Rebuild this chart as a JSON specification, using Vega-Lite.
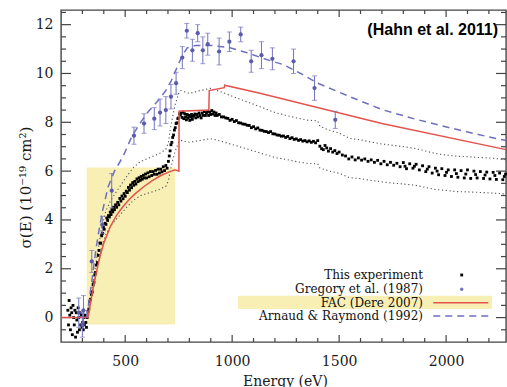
{
  "$schema": "https://vega.github.io/schema/vega-lite/v6.json",
  "width": 445,
  "height": 332,
  "autosize": {"type": "none"},
  "padding": {"left": 61, "top": 10, "right": 1, "bottom": 45},
  "background": "#ffffff",
  "config": {
    "view": {"stroke": "#444444", "strokeWidth": 1.4},
    "axis": {"grid": false, "domain": false, "ticks": false, "labelFont": "DejaVu Serif", "labelFontSize": 14, "labelColor": "#1a1a1a", "titleFont": "DejaVu Serif", "titleFontSize": 14, "titleFontWeight": "normal", "titleColor": "#1a1a1a", "labelFlush": false, "labelOverlap": false}
  },
  "datasets": {
    "box": [{"x1": 320, "x2": 733, "y1": -0.28, "y2": 6.15}],
    "xmaj": [{"v": 500}, {"v": 1000}, {"v": 1500}, {"v": 2000}],
    "xmin": [{"v": 300}, {"v": 400}, {"v": 600}, {"v": 700}, {"v": 800}, {"v": 900}, {"v": 1100}, {"v": 1200}, {"v": 1300}, {"v": 1400}, {"v": 1600}, {"v": 1700}, {"v": 1800}, {"v": 1900}, {"v": 2100}, {"v": 2200}],
    "ymaj": [{"v": 0}, {"v": 2}, {"v": 4}, {"v": 6}, {"v": 8}, {"v": 10}, {"v": 12}],
    "ymin": [{"v": -0.5}, {"v": 0.5}, {"v": 1}, {"v": 1.5}, {"v": 2.5}, {"v": 3}, {"v": 3.5}, {"v": 4.5}, {"v": 5}, {"v": 5.5}, {"v": 6.5}, {"v": 7}, {"v": 7.5}, {"v": 8.5}, {"v": 9}, {"v": 9.5}, {"v": 10.5}, {"v": 11}, {"v": 11.5}, {"v": 12.5}],
    "fac": [
      {"E": 200, "s": 0}, {"E": 326, "s": 0}, {"E": 340, "s": 0.7}, {"E": 355, "s": 1.45}, {"E": 370, "s": 2.05}, {"E": 382, "s": 2.5}, {"E": 400, "s": 3.05}, {"E": 429, "s": 3.7}, {"E": 460, "s": 4.2}, {"E": 490, "s": 4.55}, {"E": 520, "s": 4.85}, {"E": 550, "s": 5.1}, {"E": 585, "s": 5.35}, {"E": 625, "s": 5.6}, {"E": 663, "s": 5.8}, {"E": 700, "s": 5.95}, {"E": 733, "s": 6.05}, {"E": 751, "s": 6.0}, {"E": 752, "s": 8.45}, {"E": 891, "s": 8.5}, {"E": 893, "s": 9.3}, {"E": 963, "s": 9.42}, {"E": 965, "s": 9.52}, {"E": 1130, "s": 9.19}, {"E": 1700, "s": 7.95}, {"E": 2280, "s": 6.88}
    ],
    "ar": [
      {"E": 320, "s": 0}, {"E": 335, "s": 0.9}, {"E": 350, "s": 1.9}, {"E": 365, "s": 2.9}, {"E": 380, "s": 3.7}, {"E": 395, "s": 4.4}, {"E": 420, "s": 5.35}, {"E": 450, "s": 6.0}, {"E": 490, "s": 6.6}, {"E": 530, "s": 7.4}, {"E": 565, "s": 7.9}, {"E": 600, "s": 8.35}, {"E": 650, "s": 8.85}, {"E": 690, "s": 9.3}, {"E": 715, "s": 9.7}, {"E": 740, "s": 10.2}, {"E": 765, "s": 10.7}, {"E": 790, "s": 11.05}, {"E": 830, "s": 11.15}, {"E": 900, "s": 11.15}, {"E": 990, "s": 11.05}, {"E": 1070, "s": 10.85}, {"E": 1150, "s": 10.6}, {"E": 1240, "s": 10.36}, {"E": 1320, "s": 10.0}, {"E": 1400, "s": 9.6}, {"E": 1550, "s": 9.05}, {"E": 1700, "s": 8.52}, {"E": 1860, "s": 8.12}, {"E": 2020, "s": 7.77}, {"E": 2150, "s": 7.5}, {"E": 2280, "s": 7.25}
    ],
    "greg": [
      {"E": 283, "s": 0.2, "err": 0.6}, {"E": 300, "s": -0.3, "err": 0.5}, {"E": 305, "s": 0.3, "err": 0.6}, {"E": 344, "s": 2.3, "err": 0.45}, {"E": 393, "s": 3.8, "err": 0.35}, {"E": 437, "s": 5.2, "err": 0.7}, {"E": 541, "s": 7.45, "err": 0.35}, {"E": 588, "s": 7.95, "err": 0.4}, {"E": 636, "s": 8.15, "err": 0.45}, {"E": 663, "s": 8.4, "err": 0.55}, {"E": 690, "s": 8.5, "err": 0.55}, {"E": 714, "s": 9.05, "err": 0.5}, {"E": 738, "s": 9.6, "err": 0.45}, {"E": 767, "s": 10.65, "err": 0.45}, {"E": 788, "s": 11.75, "err": 0.3}, {"E": 814, "s": 10.95, "err": 0.45}, {"E": 839, "s": 11.65, "err": 0.35}, {"E": 863, "s": 10.95, "err": 0.55}, {"E": 886, "s": 11.2, "err": 0.45}, {"E": 939, "s": 10.9, "err": 0.55}, {"E": 987, "s": 11.3, "err": 0.4}, {"E": 1040, "s": 11.6, "err": 0.3}, {"E": 1089, "s": 10.5, "err": 0.45}, {"E": 1137, "s": 10.75, "err": 0.55}, {"E": 1188, "s": 10.6, "err": 0.45}, {"E": 1287, "s": 10.5, "err": 0.5}, {"E": 1385, "s": 9.4, "err": 0.5}, {"E": 1482, "s": 8.1, "err": 0.35}
    ],
    "band": [
      {"E": 330, "hi": 0.45, "lo": 0.35}, {"E": 350, "hi": 1.46, "lo": 1.14}, {"E": 370, "hi": 2.58, "lo": 2.01}, {"E": 390, "hi": 3.7, "lo": 2.89}, {"E": 410, "hi": 4.37, "lo": 3.41}, {"E": 430, "hi": 4.76, "lo": 3.72}, {"E": 450, "hi": 5.04, "lo": 3.94}, {"E": 480, "hi": 5.43, "lo": 4.24}, {"E": 510, "hi": 5.82, "lo": 4.55}, {"E": 540, "hi": 6.16, "lo": 4.81}, {"E": 570, "hi": 6.38, "lo": 4.99}, {"E": 600, "hi": 6.5, "lo": 5.08}, {"E": 630, "hi": 6.61, "lo": 5.16}, {"E": 660, "hi": 6.72, "lo": 5.25}, {"E": 690, "hi": 6.89, "lo": 5.38}, {"E": 702, "hi": 7.17, "lo": 5.6}, {"E": 710, "hi": 7.67, "lo": 5.99}, {"E": 718, "hi": 8.06, "lo": 6.3}, {"E": 726, "hi": 8.4, "lo": 6.56}, {"E": 734, "hi": 8.74, "lo": 6.83}, {"E": 742, "hi": 8.96, "lo": 7.0}, {"E": 750, "hi": 9.18, "lo": 7.18}, {"E": 760, "hi": 9.3, "lo": 7.26}, {"E": 800, "hi": 9.18, "lo": 7.18}, {"E": 850, "hi": 9.3, "lo": 7.26}, {"E": 900, "hi": 9.39, "lo": 7.33}, {"E": 950, "hi": 9.24, "lo": 7.22}, {"E": 1000, "hi": 9.07, "lo": 7.09}, {"E": 1050, "hi": 8.9, "lo": 6.96}, {"E": 1100, "hi": 8.74, "lo": 6.83}, {"E": 1150, "hi": 8.57, "lo": 6.69}, {"E": 1200, "hi": 8.4, "lo": 6.56}, {"E": 1250, "hi": 8.29, "lo": 6.48}, {"E": 1300, "hi": 8.18, "lo": 6.39}, {"E": 1350, "hi": 8.09, "lo": 6.32}, {"E": 1400, "hi": 8.06, "lo": 6.3}, {"E": 1410, "hi": 7.84, "lo": 6.13}, {"E": 1450, "hi": 7.69, "lo": 6.01}, {"E": 1500, "hi": 7.56, "lo": 5.91}, {"E": 1550, "hi": 7.34, "lo": 5.73}, {"E": 1600, "hi": 7.28, "lo": 5.69}, {"E": 1650, "hi": 7.19, "lo": 5.62}, {"E": 1700, "hi": 7.11, "lo": 5.56}, {"E": 1750, "hi": 7.06, "lo": 5.51}, {"E": 1800, "hi": 7.0, "lo": 5.47}, {"E": 1850, "hi": 6.94, "lo": 5.43}, {"E": 1900, "hi": 6.83, "lo": 5.34}, {"E": 1950, "hi": 6.72, "lo": 5.25}, {"E": 2000, "hi": 6.66, "lo": 5.21}, {"E": 2050, "hi": 6.61, "lo": 5.16}, {"E": 2100, "hi": 6.59, "lo": 5.15}, {"E": 2150, "hi": 6.56, "lo": 5.13}, {"E": 2200, "hi": 6.54, "lo": 5.11}, {"E": 2250, "hi": 6.5, "lo": 5.08}, {"E": 2280, "hi": 6.47, "lo": 5.06}
    ],
    "exp": [
      {"E": 232, "s": 0.3}, {"E": 235, "s": -0.3}, {"E": 238, "s": 0.7}, {"E": 241, "s": 0.1}, {"E": 244, "s": -0.5}, {"E": 247, "s": 0.4}, {"E": 250, "s": 0.2}, {"E": 253, "s": -0.7}, {"E": 256, "s": 0.5}, {"E": 259, "s": 0.0}, {"E": 262, "s": -0.3}, {"E": 265, "s": 0.3}, {"E": 268, "s": -0.8}, {"E": 271, "s": 0.2}, {"E": 274, "s": -0.1}, {"E": 277, "s": -0.6}, {"E": 280, "s": 0.4}, {"E": 283, "s": 0.0}, {"E": 286, "s": -0.5}, {"E": 289, "s": 0.2}, {"E": 292, "s": -0.3}, {"E": 295, "s": 0.1}, {"E": 298, "s": -0.4}, {"E": 301, "s": -0.2}, {"E": 304, "s": -0.5}, {"E": 307, "s": 0.0}, {"E": 310, "s": -0.3}, {"E": 313, "s": 0.1}, {"E": 316, "s": -0.2}, {"E": 319, "s": -0.4}, {"E": 322, "s": 0.0},
      {"E": 326, "s": 0.25}, {"E": 330, "s": 0.35}, {"E": 334, "s": 0.65}, {"E": 338, "s": 0.75}, {"E": 342, "s": 0.95}, {"E": 346, "s": 1.05}, {"E": 350, "s": 1.35}, {"E": 354, "s": 1.45}, {"E": 358, "s": 1.75}, {"E": 362, "s": 1.85}, {"E": 366, "s": 2.15}, {"E": 370, "s": 2.25}, {"E": 374, "s": 2.55}, {"E": 378, "s": 2.75}, {"E": 382, "s": 3.05}, {"E": 386, "s": 3.05}, {"E": 390, "s": 3.35}, {"E": 394, "s": 3.45}, {"E": 398, "s": 3.7}, {"E": 402, "s": 3.62}, {"E": 406, "s": 3.86}, {"E": 410, "s": 3.82}, {"E": 414, "s": 4.08}, {"E": 418, "s": 3.98}, {"E": 422, "s": 4.18}, {"E": 426, "s": 4.12}, {"E": 430, "s": 4.32}, {"E": 434, "s": 4.22}, {"E": 438, "s": 4.42}, {"E": 442, "s": 4.33}, {"E": 446, "s": 4.52}, {"E": 450, "s": 4.42}, {"E": 455, "s": 4.62}, {"E": 460, "s": 4.52}, {"E": 465, "s": 4.72}, {"E": 470, "s": 4.62}, {"E": 475, "s": 4.88}, {"E": 480, "s": 4.77}, {"E": 485, "s": 4.98}, {"E": 490, "s": 4.87}, {"E": 495, "s": 5.08}, {"E": 500, "s": 4.97}, {"E": 505, "s": 5.18}, {"E": 510, "s": 5.12}, {"E": 515, "s": 5.33}, {"E": 520, "s": 5.22}, {"E": 525, "s": 5.43}, {"E": 530, "s": 5.32}, {"E": 535, "s": 5.53}, {"E": 540, "s": 5.42}, {"E": 545, "s": 5.58}, {"E": 550, "s": 5.47}, {"E": 555, "s": 5.68}, {"E": 560, "s": 5.57}, {"E": 565, "s": 5.73}, {"E": 570, "s": 5.62}, {"E": 575, "s": 5.78}, {"E": 580, "s": 5.67}, {"E": 585, "s": 5.83}, {"E": 590, "s": 5.72}, {"E": 595, "s": 5.88}, {"E": 600, "s": 5.72}, {"E": 606, "s": 5.93}, {"E": 612, "s": 5.77}, {"E": 618, "s": 5.98}, {"E": 624, "s": 5.82}, {"E": 630, "s": 5.98}, {"E": 636, "s": 5.87}, {"E": 642, "s": 6.03}, {"E": 648, "s": 5.87}, {"E": 654, "s": 6.08}, {"E": 660, "s": 5.92}, {"E": 666, "s": 6.08}, {"E": 672, "s": 5.97}, {"E": 678, "s": 6.18}, {"E": 684, "s": 6.02}, {"E": 690, "s": 6.23}, {"E": 696, "s": 6.12}, {"E": 702, "s": 6.4}, {"E": 706, "s": 6.62}, {"E": 710, "s": 6.83}, {"E": 714, "s": 7.08}, {"E": 718, "s": 7.18}, {"E": 722, "s": 7.38}, {"E": 726, "s": 7.48}, {"E": 730, "s": 7.68}, {"E": 734, "s": 7.78}, {"E": 738, "s": 7.95}, {"E": 742, "s": 7.98}, {"E": 746, "s": 8.15}, {"E": 750, "s": 8.18}, {"E": 754, "s": 8.35}, {"E": 758, "s": 8.3},
      {"E": 762, "s": 8.38}, {"E": 766, "s": 8.2}, {"E": 770, "s": 8.42}, {"E": 774, "s": 8.15}, {"E": 778, "s": 8.35}, {"E": 782, "s": 8.22}, {"E": 786, "s": 8.1}, {"E": 790, "s": 8.32}, {"E": 794, "s": 8.18}, {"E": 798, "s": 8.28}, {"E": 802, "s": 8.08}, {"E": 806, "s": 8.22}, {"E": 810, "s": 8.32}, {"E": 814, "s": 8.12}, {"E": 818, "s": 8.24}, {"E": 822, "s": 8.28}, {"E": 826, "s": 8.34}, {"E": 830, "s": 8.18}, {"E": 835, "s": 8.32}, {"E": 840, "s": 8.22}, {"E": 845, "s": 8.38}, {"E": 850, "s": 8.28}, {"E": 855, "s": 8.18}, {"E": 860, "s": 8.38}, {"E": 865, "s": 8.28}, {"E": 870, "s": 8.44}, {"E": 875, "s": 8.28}, {"E": 880, "s": 8.38}, {"E": 885, "s": 8.45}, {"E": 890, "s": 8.28}, {"E": 895, "s": 8.42}, {"E": 900, "s": 8.32}, {"E": 905, "s": 8.48}, {"E": 910, "s": 8.34}, {"E": 915, "s": 8.42}, {"E": 920, "s": 8.28}, {"E": 925, "s": 8.38}, {"E": 930, "s": 8.28}, {"E": 940, "s": 8.32}, {"E": 950, "s": 8.22}, {"E": 960, "s": 8.22}, {"E": 970, "s": 8.18}, {"E": 980, "s": 8.16}, {"E": 990, "s": 8.08}, {"E": 1000, "s": 8.12}, {"E": 1010, "s": 8.03}, {"E": 1020, "s": 8.07}, {"E": 1030, "s": 7.98}, {"E": 1040, "s": 7.97}, {"E": 1050, "s": 7.93}, {"E": 1060, "s": 7.92}, {"E": 1070, "s": 7.88}, {"E": 1080, "s": 7.87}, {"E": 1090, "s": 7.78}, {"E": 1100, "s": 7.82}, {"E": 1110, "s": 7.73}, {"E": 1120, "s": 7.77}, {"E": 1130, "s": 7.68}, {"E": 1140, "s": 7.67}, {"E": 1150, "s": 7.63}, {"E": 1160, "s": 7.62}, {"E": 1170, "s": 7.58}, {"E": 1180, "s": 7.62}, {"E": 1190, "s": 7.53}, {"E": 1200, "s": 7.52}, {"E": 1210, "s": 7.48}, {"E": 1220, "s": 7.47}, {"E": 1230, "s": 7.43}, {"E": 1240, "s": 7.44}, {"E": 1250, "s": 7.38}, {"E": 1260, "s": 7.42}, {"E": 1270, "s": 7.33}, {"E": 1280, "s": 7.37}, {"E": 1290, "s": 7.3}, {"E": 1300, "s": 7.32}, {"E": 1310, "s": 7.26}, {"E": 1320, "s": 7.29}, {"E": 1330, "s": 7.23}, {"E": 1340, "s": 7.25}, {"E": 1350, "s": 7.2}, {"E": 1360, "s": 7.24}, {"E": 1370, "s": 7.18}, {"E": 1380, "s": 7.22}, {"E": 1390, "s": 7.16}, {"E": 1400, "s": 7.25},
      {"E": 1410, "s": 7.02}, {"E": 1418, "s": 6.92}, {"E": 1426, "s": 6.88}, {"E": 1434, "s": 7.05}, {"E": 1442, "s": 6.95}, {"E": 1450, "s": 6.82}, {"E": 1460, "s": 6.92}, {"E": 1470, "s": 6.78}, {"E": 1480, "s": 6.84}, {"E": 1490, "s": 6.72}, {"E": 1500, "s": 6.78}, {"E": 1515, "s": 6.66}, {"E": 1530, "s": 6.62}, {"E": 1545, "s": 6.5}, {"E": 1560, "s": 6.58}, {"E": 1575, "s": 6.46}, {"E": 1590, "s": 6.54}, {"E": 1605, "s": 6.45}, {"E": 1620, "s": 6.5}, {"E": 1635, "s": 6.4}, {"E": 1650, "s": 6.46}, {"E": 1665, "s": 6.36}, {"E": 1680, "s": 6.44}, {"E": 1695, "s": 6.3}, {"E": 1710, "s": 6.4}, {"E": 1725, "s": 6.26}, {"E": 1740, "s": 6.36}, {"E": 1755, "s": 6.24}, {"E": 1770, "s": 6.32}, {"E": 1785, "s": 6.18}, {"E": 1800, "s": 6.35}, {"E": 1808, "s": 6.2}, {"E": 1815, "s": 6.1}, {"E": 1830, "s": 6.3}, {"E": 1845, "s": 6.12}, {"E": 1852, "s": 6.2}, {"E": 1860, "s": 6.28}, {"E": 1875, "s": 6.05}, {"E": 1890, "s": 6.22}, {"E": 1905, "s": 5.98}, {"E": 1912, "s": 6.08}, {"E": 1920, "s": 6.18}, {"E": 1935, "s": 5.92}, {"E": 1950, "s": 6.12}, {"E": 1958, "s": 6.0}, {"E": 1965, "s": 5.85}, {"E": 1980, "s": 6.1}, {"E": 1995, "s": 5.82}, {"E": 2002, "s": 5.95}, {"E": 2010, "s": 6.05}, {"E": 2025, "s": 5.78}, {"E": 2040, "s": 6.05}, {"E": 2048, "s": 5.9}, {"E": 2055, "s": 5.75}, {"E": 2070, "s": 6.02}, {"E": 2085, "s": 5.72}, {"E": 2092, "s": 5.88}, {"E": 2100, "s": 6.05}, {"E": 2115, "s": 5.7}, {"E": 2130, "s": 6.0}, {"E": 2138, "s": 5.86}, {"E": 2145, "s": 5.72}, {"E": 2160, "s": 5.98}, {"E": 2175, "s": 5.7}, {"E": 2182, "s": 5.84}, {"E": 2190, "s": 5.96}, {"E": 2205, "s": 5.68}, {"E": 2220, "s": 5.95}, {"E": 2228, "s": 5.82}, {"E": 2235, "s": 5.66}, {"E": 2250, "s": 5.92}, {"E": 2265, "s": 5.65}, {"E": 2272, "s": 5.78}, {"E": 2278, "s": 5.88}
    ]
  },
  "layer": [
    {
      "data": {"name": "box"},
      "mark": {"type": "rect", "color": "#f8efb4"},
      "encoding": {
        "x": {"field": "x1", "type": "quantitative", "scale": {"domain": [200, 2280], "nice": false, "zero": false},
          "axis": {"orient": "bottom", "values": [500, 1000, 1500, 2000], "format": "d", "labelPadding": 12, "title": "Energy (eV)", "titleX": 224, "titleY": 43, "titleBaseline": "alphabetic", "titleAlign": "center"}},
        "x2": {"field": "x2"},
        "y": {"field": "y1", "type": "quantitative", "scale": {"domain": [-1, 12.6], "nice": false, "zero": false},
          "axis": {"orient": "left", "values": [0, 2, 4, 6, 8, 10, 12], "format": "d", "labelPadding": 8, "title": "σ(E)   (10⁻¹⁹ cm²)", "titleX": -36, "titleY": 177, "titleAngle": -90, "titleBaseline": "middle", "titleAlign": "center", "titleFontSize": 15}},
        "y2": {"field": "y2"}
      }
    },
    {
      "data": {"values": [{"k": 1}]},
      "mark": {"type": "rect", "color": "#f8efb4"},
      "encoding": {
        "x": {"datum": 1027, "type": "quantitative", "axis": null},
        "x2": {"datum": 2215},
        "y": {"datum": 0.352, "type": "quantitative", "axis": null},
        "y2": {"datum": 0.897}
      }
    },
    {
      "data": {"name": "xmaj"},
      "mark": {"type": "tick", "orient": "vertical", "size": 14, "thickness": 1.2, "color": "#444444", "clip": true, "opacity": 1},
      "encoding": {"x": {"field": "v", "type": "quantitative", "axis": null}, "y": {"datum": -1, "type": "quantitative", "axis": null}}
    },
    {
      "data": {"name": "xmaj"},
      "mark": {"type": "tick", "orient": "vertical", "size": 14, "thickness": 1.2, "color": "#444444", "clip": true, "opacity": 1},
      "encoding": {"x": {"field": "v", "type": "quantitative", "axis": null}, "y": {"datum": 12.6, "type": "quantitative", "axis": null}}
    },
    {
      "data": {"name": "xmin"},
      "mark": {"type": "tick", "orient": "vertical", "size": 8, "thickness": 1.2, "color": "#444444", "clip": true, "opacity": 1},
      "encoding": {"x": {"field": "v", "type": "quantitative", "axis": null}, "y": {"datum": -1, "type": "quantitative", "axis": null}}
    },
    {
      "data": {"name": "xmin"},
      "mark": {"type": "tick", "orient": "vertical", "size": 8, "thickness": 1.2, "color": "#444444", "clip": true, "opacity": 1},
      "encoding": {"x": {"field": "v", "type": "quantitative", "axis": null}, "y": {"datum": 12.6, "type": "quantitative", "axis": null}}
    },
    {
      "data": {"name": "ymaj"},
      "mark": {"type": "tick", "orient": "horizontal", "size": 20, "thickness": 1.2, "color": "#444444", "clip": true, "opacity": 1},
      "encoding": {"y": {"field": "v", "type": "quantitative", "axis": null}, "x": {"datum": 200, "type": "quantitative", "axis": null}}
    },
    {
      "data": {"name": "ymaj"},
      "mark": {"type": "tick", "orient": "horizontal", "size": 20, "thickness": 1.2, "color": "#444444", "clip": true, "opacity": 1},
      "encoding": {"y": {"field": "v", "type": "quantitative", "axis": null}, "x": {"datum": 2280, "type": "quantitative", "axis": null}}
    },
    {
      "data": {"name": "ymin"},
      "mark": {"type": "tick", "orient": "horizontal", "size": 10, "thickness": 1.2, "color": "#444444", "clip": true, "opacity": 1},
      "encoding": {"y": {"field": "v", "type": "quantitative", "axis": null}, "x": {"datum": 200, "type": "quantitative", "axis": null}}
    },
    {
      "data": {"name": "ymin"},
      "mark": {"type": "tick", "orient": "horizontal", "size": 10, "thickness": 1.2, "color": "#444444", "clip": true, "opacity": 1},
      "encoding": {"y": {"field": "v", "type": "quantitative", "axis": null}, "x": {"datum": 2280, "type": "quantitative", "axis": null}}
    },
    {
      "data": {"name": "band"},
      "mark": {"type": "line", "color": "#555555", "strokeWidth": 1.1, "strokeDash": [1.2, 2.6]},
      "encoding": {
        "x": {"field": "E", "type": "quantitative", "axis": null},
        "y": {"field": "hi", "type": "quantitative", "axis": null}
      }
    },
    {
      "data": {"name": "band"},
      "mark": {"type": "line", "color": "#555555", "strokeWidth": 1.1, "strokeDash": [1.2, 2.6]},
      "encoding": {
        "x": {"field": "E", "type": "quantitative", "axis": null},
        "y": {"field": "lo", "type": "quantitative", "axis": null}
      }
    },
    {
      "data": {"name": "exp"},
      "mark": {"type": "point", "shape": "square", "filled": true, "size": 8, "color": "#000000", "opacity": 1},
      "encoding": {
        "x": {"field": "E", "type": "quantitative", "axis": null},
        "y": {"field": "s", "type": "quantitative", "axis": null}
      }
    },
    {
      "data": {"name": "fac"},
      "mark": {"type": "line", "color": "#e4534c", "strokeWidth": 1.5},
      "encoding": {
        "x": {"field": "E", "type": "quantitative", "axis": null},
        "y": {"field": "s", "type": "quantitative", "axis": null}
      }
    },
    {
      "data": {"name": "ar"},
      "mark": {"type": "line", "color": "#6f6fc0", "strokeWidth": 1.5, "strokeDash": [7, 5]},
      "encoding": {
        "x": {"field": "E", "type": "quantitative", "axis": null},
        "y": {"field": "s", "type": "quantitative", "axis": null}
      }
    },
    {
      "data": {"name": "greg"},
      "mark": {"type": "errorbar", "color": "#7373c2", "thickness": 1, "ticks": {"size": 5, "color": "#7373c2", "thickness": 1}},
      "encoding": {
        "x": {"field": "E", "type": "quantitative", "axis": null},
        "y": {"field": "s", "type": "quantitative", "axis": null},
        "yError": {"field": "err"}
      }
    },
    {
      "data": {"name": "greg"},
      "mark": {"type": "circle", "size": 18, "color": "#5b5bad", "opacity": 1},
      "encoding": {
        "x": {"field": "E", "type": "quantitative", "axis": null},
        "y": {"field": "s", "type": "quantitative", "axis": null}
      }
    },
    {
      "data": {"values": [{"label": "(Hahn et al. 2011)"}]},
      "mark": {"type": "text", "font": "Liberation Sans", "fontWeight": "bold", "fontSize": 16, "align": "right", "baseline": "alphabetic", "color": "#000000"},
      "encoding": {
        "x": {"datum": 2243, "type": "quantitative", "axis": null},
        "y": {"datum": 11.58, "type": "quantitative", "axis": null},
        "text": {"field": "label"}
      }
    },
    {
      "data": {"values": [{"label": "This experiment"}]},
      "mark": {"type": "text", "font": "DejaVu Serif", "fontSize": 12, "align": "right", "baseline": "middle", "color": "#111111"},
      "encoding": {
        "x": {"datum": 1892, "type": "quantitative", "axis": null},
        "y": {"datum": 1.745, "type": "quantitative", "axis": null},
        "text": {"field": "label"}
      }
    },
    {
      "data": {"values": [{"label": "Gregory et al. (1987)"}]},
      "mark": {"type": "text", "font": "DejaVu Serif", "fontSize": 12, "align": "right", "baseline": "middle", "color": "#111111"},
      "encoding": {
        "x": {"datum": 1892, "type": "quantitative", "axis": null},
        "y": {"datum": 1.16, "type": "quantitative", "axis": null},
        "text": {"field": "label"}
      }
    },
    {
      "data": {"values": [{"label": "FAC (Dere 2007)"}]},
      "mark": {"type": "text", "font": "DejaVu Serif", "fontSize": 12, "align": "right", "baseline": "middle", "color": "#111111"},
      "encoding": {
        "x": {"datum": 1892, "type": "quantitative", "axis": null},
        "y": {"datum": 0.61, "type": "quantitative", "axis": null},
        "text": {"field": "label"}
      }
    },
    {
      "data": {"values": [{"label": "Arnaud & Raymond (1992)"}]},
      "mark": {"type": "text", "font": "DejaVu Serif", "fontSize": 12, "align": "right", "baseline": "middle", "color": "#111111"},
      "encoding": {
        "x": {"datum": 1892, "type": "quantitative", "axis": null},
        "y": {"datum": 0.065, "type": "quantitative", "axis": null},
        "text": {"field": "label"}
      }
    },
    {
      "data": {"values": [{"k": 1}]},
      "mark": {"type": "point", "shape": "square", "filled": true, "size": 8, "color": "#000000", "opacity": 1},
      "encoding": {
        "x": {"datum": 2073, "type": "quantitative", "axis": null},
        "y": {"datum": 1.745, "type": "quantitative", "axis": null}
      }
    },
    {
      "data": {"values": [{"k": 1}]},
      "mark": {"type": "circle", "size": 12, "color": "#7373c2", "opacity": 1},
      "encoding": {
        "x": {"datum": 2073, "type": "quantitative", "axis": null},
        "y": {"datum": 1.16, "type": "quantitative", "axis": null}
      }
    },
    {
      "data": {"values": [{"k": 1}]},
      "mark": {"type": "rule", "color": "#e4534c", "strokeWidth": 1.5},
      "encoding": {
        "x": {"datum": 1940, "type": "quantitative", "axis": null},
        "x2": {"datum": 2197},
        "y": {"datum": 0.61, "type": "quantitative", "axis": null}
      }
    },
    {
      "data": {"values": [{"k": 1}]},
      "mark": {"type": "rule", "color": "#6f6fc0", "strokeWidth": 1.5, "strokeDash": [7, 5]},
      "encoding": {
        "x": {"datum": 1940, "type": "quantitative", "axis": null},
        "x2": {"datum": 2197},
        "y": {"datum": 0.065, "type": "quantitative", "axis": null}
      }
    }
  ],
  "resolve": {"axis": {"x": "independent", "y": "independent"}}
}
